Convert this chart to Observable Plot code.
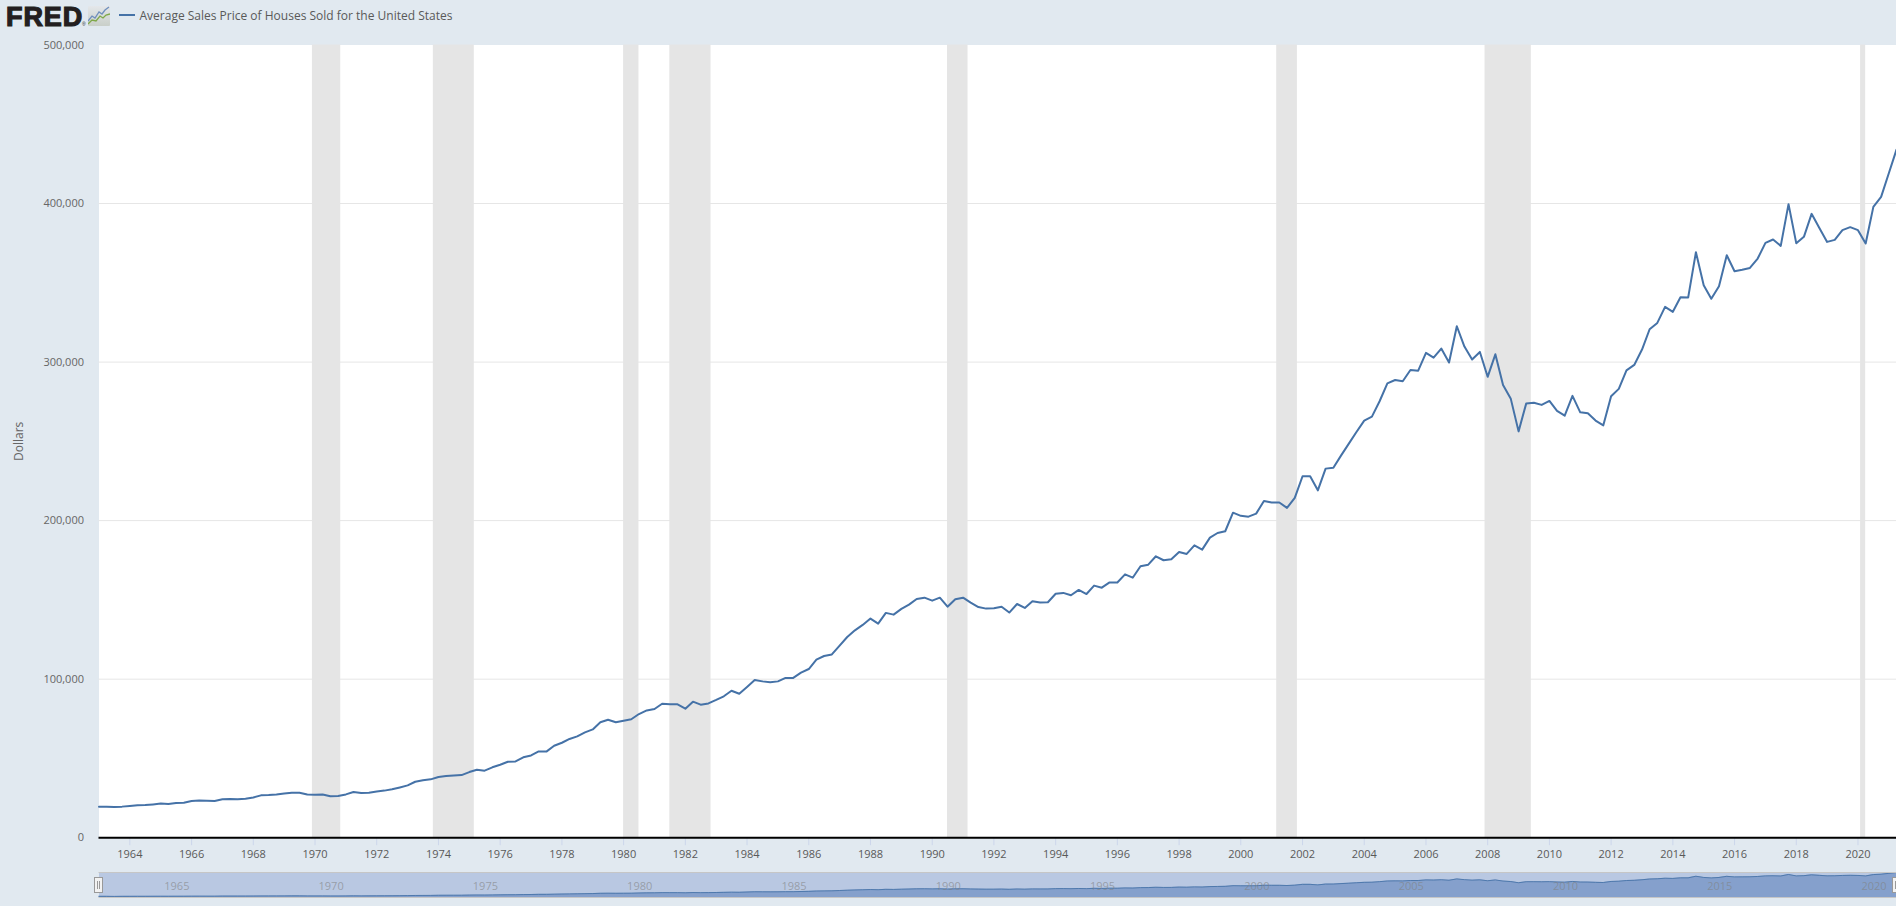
<!DOCTYPE html>
<html>
<head>
<meta charset="utf-8">
<script src="https://cdn.jsdelivr.net/npm/d3@7"></script>
<script src="https://cdn.jsdelivr.net/npm/@observablehq/plot@0.6"></script>
<style>
  html, body { margin: 0; padding: 0; background: #e1e9f0; overflow: hidden; width: 1896px; height: 906px; }
  body { position: relative; font-family: "Open Sans", sans-serif; color: #595959; }
  #header { position: relative; height: 36px; }
  #logo { position: absolute; left: 6px; top: 2px; font: 700 27px/30px "Liberation Sans", sans-serif; letter-spacing: 0.9px; color: #231f20; -webkit-text-stroke: 1.2px #231f20; white-space: nowrap; }
  #reg { position: absolute; left: 82px; top: 22px; font: 400 5px/5px "Liberation Sans", sans-serif; color: #231f20; }
  #icon { position: absolute; left: 88px; top: 6px; }
  #swatch { position: absolute; left: 119px; top: 14px; width: 16px; height: 2px; background: #4572a7; }
  #legend { position: absolute; left: 139.5px; top: 6.5px; font-size: 12px; line-height: 17px; white-space: nowrap; }
  svg.plot, svg { display: block; background: transparent; }
  .handle { position: absolute; top: 877px; width: 7px; height: 14px; border: 1px solid #999;
    background: linear-gradient(#999,#999) 2px 3px/1px 8px no-repeat, linear-gradient(#999,#999) 4px 3px/1px 8px no-repeat, #f2f2f2; }
</style>
</head>
<body>
<div id="header">
  <div id="logo">FRED</div>
  <div id="reg">®</div>
  <svg id="icon" width="22" height="20" viewBox="0 0 22 20" style="position:absolute">
    <defs><linearGradient id="ig" x1="0" y1="0" x2="0" y2="1"><stop offset="0" stop-color="#e4e7ea"/><stop offset="1" stop-color="#c9cfc9"/></linearGradient></defs>
    <rect width="22" height="20" rx="1" fill="url(#ig)"/>
    <polyline points="0,15 4,10 7,12 11,6 14,8 17,4 21,1" fill="none" stroke="#6f8fbd" stroke-width="1.3"/>
    <polyline points="0,18 4,14 8,15 12,10 15,12 18,9 22,8" fill="none" stroke="#7fa84a" stroke-width="1.3"/>
  </svg>
  <div id="swatch"></div>
  <div id="legend">Average Sales Price of Houses Sold for the United States</div>
</div>
<div id="main"></div>
<div id="nav"></div>
<div class="handle" style="left:94px"></div>
<div class="handle" style="left:1892px"></div>
<script>
// Quarterly average sales price, 1963 Q1 to 2021 Q2
const prices = [
  19600,19600,19400,19600, 20000,20400,20600,21000, 21500,21300,21900,22100,
  23200,23500,23300,23200, 24200,24400,24200,24600, 25400,26700,26900,27300,
  27900,28400,28400,27300, 27100,27300,26100,26300, 27300,28800,28200,28400,
  29200,29700,30500,31700, 33000,35300,36200,36800, 38300,38900,39300,39500,
  41400,42900,42300,44400, 46000,47900,48100,50700, 51900,54400,54300,58000,
  59900,62300,63900,66400, 68300,72800,74400,72800, 73800,74700,78000,80300,
  81200,84500,84100,84100, 81400,85800,83900,84700, 86900,89200,92700,90800,
  95100,99500,98600,98000, 98600,100800,100800,104100, 106400,112300,114600,115600,
  121100,126600,130800,134200, 138200,135000,141800,140700, 144300,147000,150600,151400,
  149500,151400,145700,150400, 151400,148300,145500,144500, 144700,145700,142000,147400,
  144900,149100,148300,148500, 153900,154400,152900,156300, 153700,159000,157700,161000,
  161000,166100,164000,171200, 172200,177500,175000,175600, 180200,179000,184400,181700,
  189300,192200,193300,205000, 203000,202500,204400,212400, 211400,211400,208000,214300,
  228000,228000,219100,232800, 233400,241000,248400,255900, 263100,265600,275300,286600,
  288700,287900,295000,294600, 305800,302800,308500,299700, 322600,309800,301600,306400,
  290700,304900,285600,276800, 256300,273800,274400,273000, 275500,269200,266200,278700,
  268300,267700,263100,260100, 278400,283100,294800,298200, 307900,320700,324700,334800,
  331700,340900,340700,369300, 348500,339900,347800,367400, 357300,358200,359400,365300,
  375200,377300,373300,399600, 374900,379000,393500,384600, 375800,377100,383200,385100,
  383200,374800,397900,404200, 419300,434000
];
const startQuarter = new Date(Date.UTC(1963, 0, 1));
const endQuarter = new Date(Date.UTC(2021, 3, 1));
const quarters = d3.utcMonth.range(startQuarter, d3.utcMonth.offset(endQuarter, 1), 3);
const series = quarters.map((date, i) => ({date, price: prices[i]}));

const recessionStart = ["1969-12-01","1973-11-01","1980-01-01","1981-07-01","1990-07-01","2001-03-01","2007-12-01","2020-02-01"].map(d => new Date(d));
const recessionEnd   = ["1970-11-01","1975-03-01","1980-07-01","1982-11-01","1991-03-01","2001-11-01","2009-06-01","2020-04-01"].map(d => new Date(d));
const recessions = recessionStart.map((start, i) => ({start, end: recessionEnd[i]}));

const xTickYears = d3.range(1964, 2021, 2).map(y => new Date(Date.UTC(y, 0, 1)));
const yTicks = [0, 100000, 200000, 300000, 400000, 500000];
const navYears = d3.range(1965, 2021, 5).map(y => new Date(Date.UTC(y, 0, 1)));
const xDomain = [startQuarter, endQuarter];
const font = '"Open Sans", sans-serif';

const main = Plot.plot({
  width: 1896, height: 830,
  marginLeft: 98.5, marginRight: 0, marginTop: 8.5, marginBottom: 28.8,
  style: {background: "transparent", fontFamily: font, fontSize: "11px"},
  x: {type: "utc", domain: xDomain},
  y: {domain: [0, 500000]},
  marks: [
    Plot.frame({fill: "white", stroke: "none"}),
    Plot.gridY(yTicks.filter(d => d > 0 && d < 500000), {stroke: "#e6e6e6", strokeOpacity: 1, strokeWidth: 1}),
    Plot.rectX(recessions, {x1: "start", x2: "end", fill: "#e5e5e5"}),
    Plot.line(series, {x: "date", y: "price", stroke: "#4572a7", strokeWidth: 2, strokeLinejoin: "round"}),
    Plot.axisY(yTicks, {tickSize: 0, tickPadding: 15, tickFormat: d3.format(","), fill: "#666666", fontSize: 11,
      label: null}),
    Plot.text(["Dollars"], {frameAnchor: "left", textAnchor: "middle", dx: -79.5, rotate: -90, fill: "#666666", fontSize: 12}),
    Plot.axisX(xTickYears, {tickSize: 8, stroke: "#ccd6eb", fill: "#595959", tickPadding: 4,
      tickFormat: d3.utcFormat("%Y"), label: null, fontSize: 11}),
    Plot.ruleY([0], {stroke: "black", strokeWidth: 2})
  ]
});
document.getElementById("main").append(main);

const nav = Plot.plot({
  width: 1896, height: 40,
  marginLeft: 98.5, marginRight: 0, marginTop: 6, marginBottom: 9,
  style: {background: "transparent", fontFamily: font, fontSize: "11px"},
  x: {type: "utc", domain: xDomain, axis: null},
  y: {domain: [0, 434000], axis: null},
  marks: [
    Plot.frame({fill: "#b9c8e2", stroke: "none"}),
    Plot.areaY(series, {x: "date", y: "price", fill: "#85a0cc"}),
    Plot.line(series, {x: "date", y: "price", stroke: "#4572a7", strokeWidth: 1, strokeOpacity: 0.85}),
    Plot.text(navYears, {x: d => d, text: d3.utcFormat("%Y"), frameAnchor: "bottom", dy: -8, dx: 3.5,
      textAnchor: "start", fill: "#808080", fillOpacity: 0.6, fontSize: 11}),
    Plot.frame({anchor: "top", stroke: "#c6c6c6"}),
    Plot.frame({anchor: "bottom", stroke: "#c6c6c6"})
  ]
});
document.getElementById("nav").append(nav);
</script>
</body>
</html>
